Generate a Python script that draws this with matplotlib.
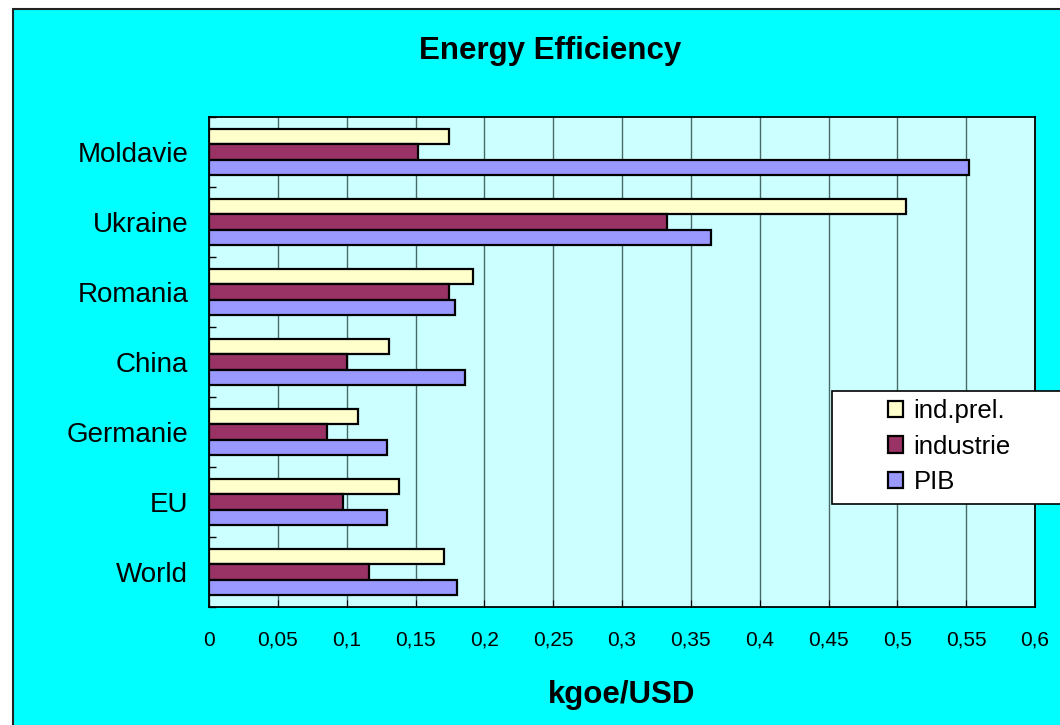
import matplotlib
matplotlib.use('Agg')
import matplotlib.pyplot as plt
from matplotlib.patches import Rectangle
from matplotlib.ticker import FuncFormatter, MultipleLocator
import numpy as np

plt.rcParams['font.family'] = ['Liberation Sans', 'DejaVu Sans']

# data, bottom to top as drawn
countries = ['World', 'EU', 'Germanie', 'China', 'Romania', 'Ukraine', 'Moldavie']
ind_prel = [0.171, 0.138, 0.108, 0.131, 0.192, 0.506, 0.174]
industrie = [0.116, 0.097, 0.086, 0.100, 0.174, 0.333, 0.152]
pib = [0.180, 0.129, 0.129, 0.186, 0.179, 0.365, 0.552]

series = [('ind.prel.', ind_prel, '#FFFFCC'),
          ('industrie', industrie, '#993366'),
          ('PIB', pib, '#9999FF')]

W, H = 1060, 725
fig = plt.figure(figsize=(W / 100, H / 100), dpi=100, facecolor='white')

# chart area (cyan) with black border on left/top
fig.patches.append(Rectangle((13 / W, -0.05), 1.2, 1.05 - 9 / H,
                             transform=fig.transFigure, facecolor='#00FFFF',
                             edgecolor='#222222', linewidth=1.5, zorder=-10))

ax = fig.add_axes([209 / W, 1 - 607 / H, (1035 - 209) / W, (607 - 117) / H])
ax.set_facecolor('#CCFFFF')

y = np.arange(len(countries))
h = 0.215
offsets = [h, 0, -h]
for (name, vals, col), off in zip(series, offsets):
    ax.barh(y + off, vals, height=h, color=col, edgecolor='black',
            linewidth=1.6, label=name, zorder=3)

ax.set_xlim(0, 0.6)
ax.set_ylim(-0.5, len(countries) - 0.5)

ax.xaxis.set_major_locator(MultipleLocator(0.05))
ax.xaxis.set_major_formatter(FuncFormatter(lambda v, p: ('%g' % round(v, 2)).replace('.', ',')))
ax.grid(axis='x', color='#4a6a6a', linewidth=1.0, zorder=1)
ax.tick_params(axis='x', direction='in', length=5, labelsize=15, pad=17, color='black')

ax.set_yticks(y)
ax.set_yticklabels(countries, fontsize=20)
ax.set_yticks(np.arange(len(countries) + 1) - 0.5, minor=True)
ax.tick_params(axis='y', which='major', length=0, pad=15)
ax.tick_params(axis='y', which='minor', direction='in', length=5, width=1, color='black')

for s in ax.spines.values():
    s.set_color('black')
    s.set_linewidth(1.3)

ax.set_xlabel('kgoe/USD', fontsize=22.5, fontweight='bold', labelpad=22)

fig.text(550 / W, 1 - 51 / H, 'Energy Efficiency', fontsize=22.5,
         fontweight='bold', ha='center', va='center')

# legend box (extends past the right edge like the original)
ax.add_patch(Rectangle((832 / W, 1 - 504 / H), 0.3, 113 / H,
                       transform=fig.transFigure, facecolor='white',
                       edgecolor='black', linewidth=1.2, zorder=8, clip_on=False))
leg = ax.legend(loc='upper left', bbox_to_anchor=(870 / W, 1 - 381 / H),
                bbox_transform=fig.transFigure, frameon=False, fontsize=18.5,
                handlelength=0.6, handleheight=0.6, handletextpad=0.4,
                labelspacing=0.45, borderpad=0.2)
leg.set_zorder(10)

fig.savefig('out.png', dpi=100, facecolor=fig.get_facecolor())
